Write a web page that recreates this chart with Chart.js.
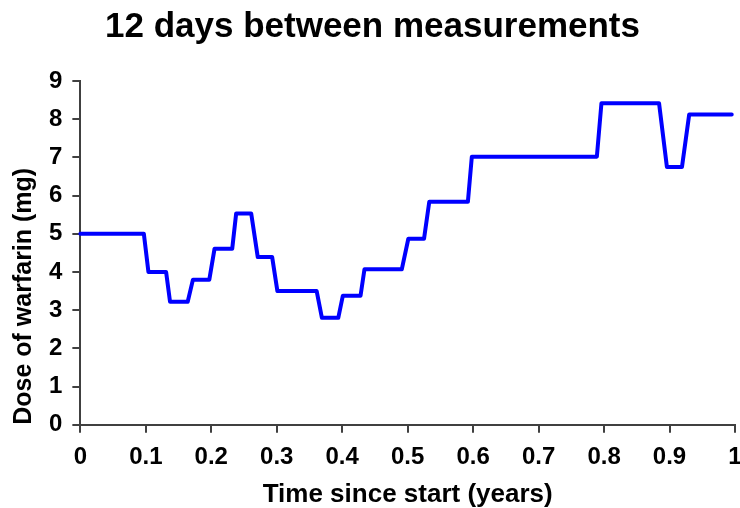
<!DOCTYPE html>
<html>
<head>
<meta charset="utf-8">
<script src="https://cdn.jsdelivr.net/npm/chart.js@4"></script>
<style>
  html, body { margin: 0; padding: 0; background: #fff; }
  #chart { display: block; }
</style>
</head>
<body>
<canvas id="chart" width="740" height="508"></canvas>
<script>
// time points (years) and warfarin dose (mg)
const timeYears = [0, 0.097, 0.104, 0.131, 0.137, 0.164, 0.172, 0.197, 0.205, 0.232,
    0.238, 0.261, 0.271, 0.293, 0.301, 0.361, 0.369, 0.394, 0.401, 0.428,
    0.434, 0.491, 0.501, 0.525, 0.533, 0.592, 0.598, 0.789, 0.796, 0.884,
    0.896, 0.919, 0.930, 0.995];
const doseMg = [5, 5, 4, 4, 3.22, 3.22, 3.8, 3.8, 4.61, 4.61,
    5.53, 5.53, 4.39, 4.39, 3.5, 3.5, 2.8, 2.8, 3.38, 3.38,
    4.07, 4.07, 4.87, 4.87, 5.84, 5.84, 7.02, 7.02, 8.42, 8.42,
    6.75, 6.75, 8.12, 8.12];

const titleText = '12 days between measurements';
const xTitle = 'Time since start (years)';
const yTitle = 'Dose of warfarin (mg)';

const fontFamily = '"Liberation Sans", Arial, sans-serif';
const axisColor = '#404040';

const points = timeYears.map((t, i) => ({ x: t, y: doseMg[i] }));

new Chart(document.getElementById('chart').getContext('2d'), {
    type: 'line',
    data: {
        datasets: [{
            data: points,
            borderColor: '#0000ff',
            borderWidth: 4,
            pointRadius: 0,
            tension: 0,
            fill: false,
            borderJoinStyle: 'round',
            borderCapStyle: 'round',
            clip: false
        }]
    },
    options: {
        responsive: false,
        animation: false,
        layout: { padding: { left: 5, right: 0, top: 2, bottom: 0 } },
        plugins: {
            legend: { display: false },
            tooltip: { enabled: false },
            title: {
                display: true,
                text: titleText,
                color: '#000',
                font: { family: fontFamily, size: 35, weight: 'bold' },
                padding: { top: 4, bottom: 33 }
            }
        },
        scales: {
            x: {
                type: 'linear',
                min: 0,
                max: 1,
                afterFit: (scale) => { scale.paddingRight = 5; },
                ticks: { stepSize: 0.1, color: '#000', padding: 12, maxRotation: 0,
                    callback: (v) => String(Number(v.toFixed(1))),
                    font: { family: fontFamily, size: 24, weight: 'bold', lineHeight: 1.05 } },
                grid: { display: true, drawOnChartArea: false, drawTicks: true, tickLength: 8, color: axisColor, lineWidth: 2 },
                border: { display: true, color: axisColor, width: 2 },
                title: { display: true, text: xTitle, color: '#000', padding: { top: 0, bottom: 0 },
                    font: { family: fontFamily, size: 26, weight: 'bold', lineHeight: 1.0 } }
            },
            y: {
                min: 0,
                max: 9,
                ticks: { stepSize: 1, color: '#000', padding: 10,
                    font: { family: fontFamily, size: 24, weight: 'bold' } },
                grid: { display: true, drawOnChartArea: false, drawTicks: true, tickLength: 8, color: axisColor, lineWidth: 2 },
                border: { display: true, color: axisColor, width: 2 },
                title: { display: true, text: yTitle, color: '#000', align: 'start', padding: { top: 4, bottom: 0 },
                    font: { family: fontFamily, size: 25, weight: 'bold' } }
            }
        }
    }
});
</script>
</body>
</html>
